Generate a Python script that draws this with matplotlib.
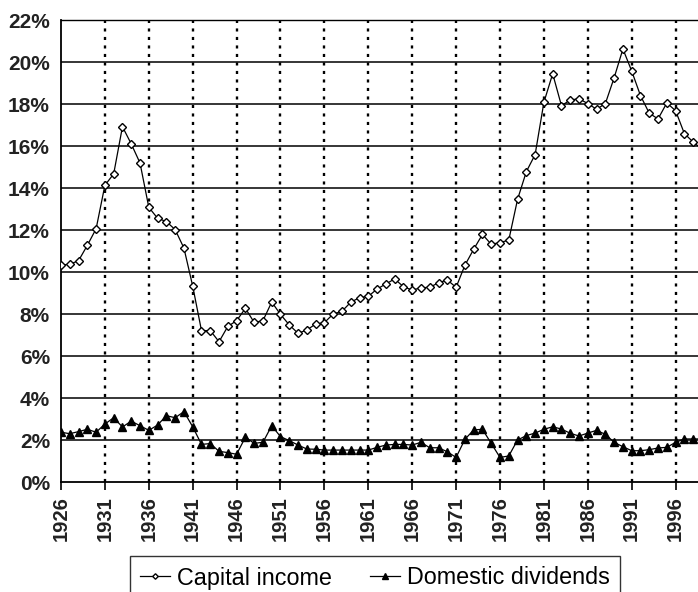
import matplotlib
matplotlib.use('Agg')
import matplotlib.pyplot as plt
from matplotlib.ticker import FuncFormatter

plt.rcParams['font.family'] = ['Liberation Sans', 'DejaVu Sans']

years = list(range(1926, 2000))

# share of income, percent
capital_income = [
    10.33, 10.37, 10.54, 11.27, 12.06, 14.13, 14.67, 16.92, 16.10, 15.19,
    13.08, 12.56, 12.40, 12.02, 11.14, 9.33, 7.21, 7.21, 6.68, 7.41,
    7.68, 8.27, 7.60, 7.68, 8.57, 7.98, 7.48, 7.08, 7.24, 7.52,
    7.59, 8.00, 8.13, 8.56, 8.78, 8.84, 9.19, 9.43, 9.67, 9.30,
    9.14, 9.25, 9.27, 9.49, 9.62, 9.27, 10.32, 11.08, 11.79, 11.32,
    11.40, 11.52, 13.46, 14.78, 15.59, 18.08, 19.44, 17.92, 18.19, 18.25,
    18.02, 17.75, 18.02, 19.25, 20.62, 19.57, 18.40, 17.56, 17.29, 18.05,
    17.68, 16.59, 16.19, 15.85,
]

domestic_dividends = [
    2.37, 2.30, 2.40, 2.51, 2.37, 2.76, 3.06, 2.62, 2.90, 2.68,
    2.46, 2.71, 3.16, 3.06, 3.35, 2.63, 1.79, 1.83, 1.46, 1.40,
    1.32, 2.13, 1.84, 1.89, 2.68, 2.16, 1.97, 1.76, 1.57, 1.56,
    1.52, 1.52, 1.52, 1.52, 1.52, 1.52, 1.65, 1.76, 1.79, 1.79,
    1.76, 1.89, 1.63, 1.63, 1.44, 1.17, 2.03, 2.48, 2.51, 1.84,
    1.17, 1.24, 2.00, 2.21, 2.33, 2.51, 2.63, 2.52, 2.32, 2.19,
    2.33, 2.46, 2.27, 1.89, 1.68, 1.49, 1.49, 1.54, 1.62, 1.65,
    1.89, 2.05, 2.05, 2.05,
]

x_ticks = list(range(1926, 1997, 5))
y_ticks = list(range(0, 23, 2))

fig = plt.figure(figsize=(6.98, 5.92), dpi=100)
ax = fig.add_axes([61 / 698, 110 / 592, 637 / 698, 462 / 592])

# grid: solid horizontal, dotted vertical
for y in y_ticks[1:]:
    ax.axhline(y, color='black', lw=1.1, zorder=1)
for x in x_ticks[1:]:
    ax.axvline(x, color='black', lw=1.7, dashes=(1.3, 2.3), zorder=1)

ax.plot(years, capital_income, color='black', lw=0.9, marker='D', markersize=4,
        markerfacecolor='white', markeredgecolor='black', markeredgewidth=1.0,
        label='Capital income', zorder=3)
ax.plot(years, domestic_dividends, color='black', lw=0.9, marker='^', markersize=6,
        markerfacecolor='black', markeredgecolor='black',
        label='Domestic dividends', zorder=3)

ax.set_xlim(1926, 1926 + 637 / 8.78)
ax.set_ylim(0, 22)
ax.set_xticks(x_ticks)
ax.set_yticks(y_ticks)
ax.yaxis.set_major_formatter(FuncFormatter(lambda v, p: f'{int(v)}%'))

for lab in ax.get_xticklabels():
    lab.set_rotation(90)
ax.tick_params(axis='x', length=6, width=1.2, pad=4, labelsize=14.5)
ax.tick_params(axis='y', length=0, pad=8, labelsize=15)
for lab in ax.get_xticklabels() + ax.get_yticklabels():
    lab.set_fontweight('bold')
    lab.set_color('#222222')

ax.spines['right'].set_visible(False)
ax.spines['top'].set_linewidth(1.0)
ax.spines['left'].set_linewidth(1.3)
ax.spines['bottom'].set_linewidth(1.3)

leg = fig.legend(loc='upper center', bbox_to_anchor=(375 / 698, 1 - 556 / 592),
                 ncol=2, fontsize=16.8, frameon=True, fancybox=False,
                 edgecolor='black', handlelength=1.3, handletextpad=0.3,
                 columnspacing=1.6, borderpad=0.45, borderaxespad=0,
                 markerscale=0.7)
leg.get_frame().set_linewidth(1.0)

fig.savefig('out.png', dpi=100)
